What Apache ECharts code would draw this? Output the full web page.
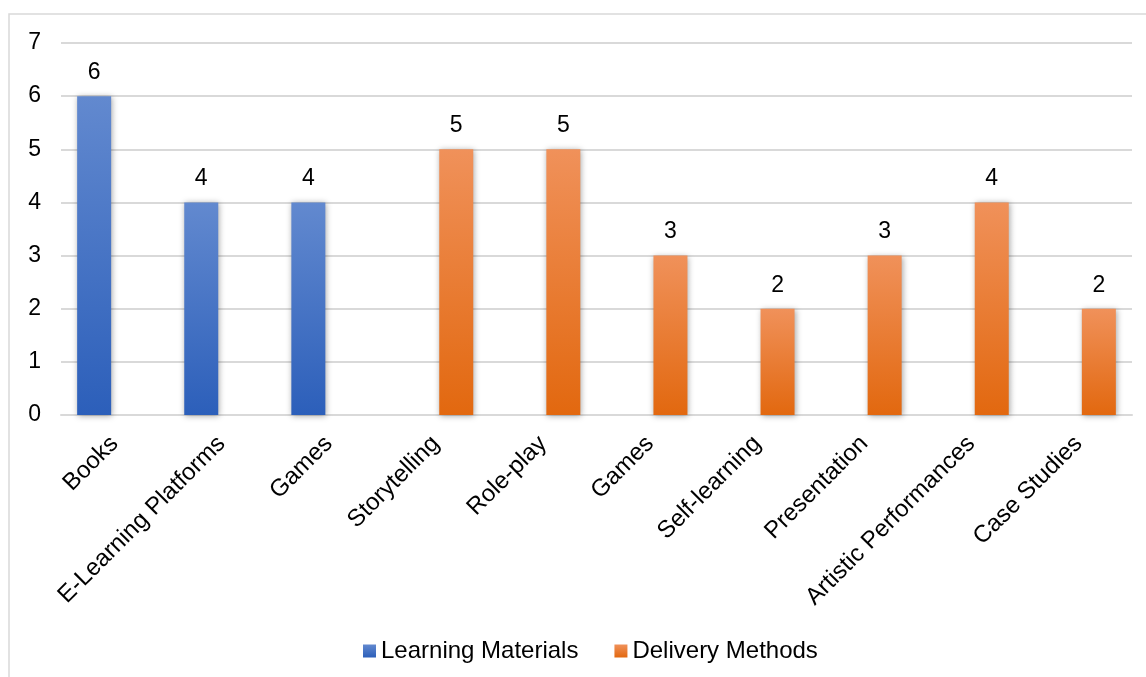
<!DOCTYPE html>
<html><head><meta charset="utf-8">
<script src="https://cdn.jsdelivr.net/npm/echarts@6/dist/echarts.min.js"></script>
<style>html,body{margin:0;padding:0;background:#fff}#c{width:1146px;height:677px}</style>
</head><body><div id="c"></div>
<script>
const categories = ['Books','E-Learning Platforms','Games','Storytelling','Role-play','Games','Self-learning','Presentation','Artistic Performances','Case Studies'];
const learningMaterials = [6,4,4,null,null,null,null,null,null,null];
const deliveryMethods = [null,null,null,5,5,3,2,3,4,2];
const yTicks = [0,1,2,3,4,5,6,7];

const chart = echarts.init(document.getElementById('c'));
const font = 'Liberation Sans, Arial, sans-serif';
function grad(top, bottom){
  return new echarts.graphic.LinearGradient(0,0,0,1,[{offset:0,color:top},{offset:1,color:bottom}]);
}
chart.setOption({
  backgroundColor:'#fff',
  animation:false,
  graphic:[{type:'rect',shape:{x:9,y:14,width:1160,height:700},style:{fill:'none',stroke:'#d9d9d9',lineWidth:1.5},z:-1}],
  grid:{left:61,right:14,top:43,bottom:262,containLabel:false},
  legend:{
    top:634,left:358,itemWidth:13,itemHeight:13,itemGap:36,icon:'rect',
    textStyle:{fontFamily:font,fontSize:24,color:'#000',padding:[0,0,0,0]},
    data:['Learning Materials','Delivery Methods']
  },
  xAxis:{
    type:'category',data:categories,
    axisLine:{lineStyle:{color:'#d9d9d9',width:2}},
    axisTick:{show:false},
    axisLabel:{rotate:45,interval:0,fontFamily:font,fontSize:24,color:'#000',margin:25}
  },
  yAxis:{
    type:'value',min:0,max:7,interval:1,
    axisLine:{show:false},axisTick:{show:false},
    splitLine:{lineStyle:{color:'#d9d9d9',width:2}},
    axisLabel:{fontFamily:font,fontSize:23,color:'#000',margin:20,
      formatter:v=>yTicks.includes(v)?String(v):''}
  },
  series:[
    {name:'Learning Materials',type:'bar',data:learningMaterials,barWidth:34,barGap:'20%',
     itemStyle:{color:grad('#6289cf','#2c5fba'),shadowColor:'rgba(0,0,0,0.35)',shadowBlur:6,shadowOffsetX:1,shadowOffsetY:1},
     label:{show:true,position:'top',distance:12,fontFamily:font,fontSize:23,color:'#000'}},
    {name:'Delivery Methods',type:'bar',data:deliveryMethods,barWidth:34,barGap:'20%',
     itemStyle:{color:grad('#f0915a','#e2680f'),shadowColor:'rgba(0,0,0,0.35)',shadowBlur:6,shadowOffsetX:1,shadowOffsetY:1},
     label:{show:true,position:'top',distance:12,fontFamily:font,fontSize:23,color:'#000'}}
  ]
});
</script></body></html>
